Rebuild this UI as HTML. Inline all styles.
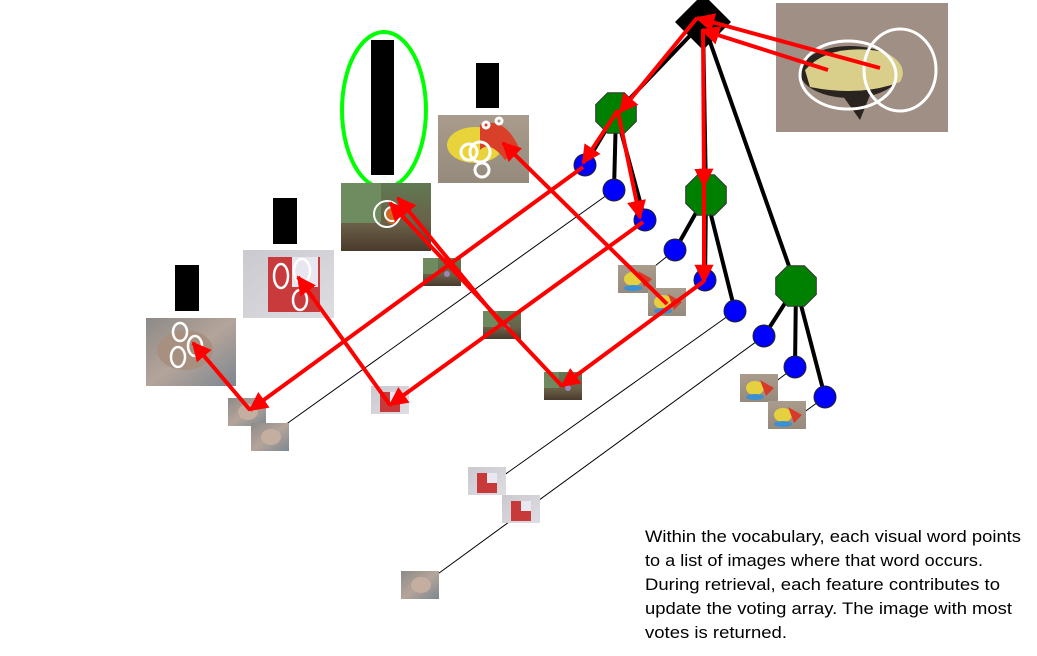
<!DOCTYPE html>
<html><head><meta charset="utf-8"><style>
html,body{margin:0;padding:0;background:#fff;}
svg{display:block;}
</style></head><body>
<svg width="1037" height="656" viewBox="0 0 1037 656" xmlns="http://www.w3.org/2000/svg">
<defs>
<marker id="ah" viewBox="0 0 10 10" refX="9" refY="5" markerWidth="4.8" markerHeight="4.8" orient="auto" markerUnits="strokeWidth">
<path d="M0,0 L10,5 L0,10 z" fill="#f00"/></marker>
<linearGradient id="face" x1="0" y1="0" x2="1" y2="1"><stop offset="0" stop-color="#8c8a88"/><stop offset="0.5" stop-color="#b4a49a"/><stop offset="1" stop-color="#7d8790"/></linearGradient>
<linearGradient id="box" x1="0" y1="0" x2="1" y2="1"><stop offset="0" stop-color="#c9c9cf"/><stop offset="1" stop-color="#dedde2"/></linearGradient>
<linearGradient id="flw" x1="0" y1="0" x2="0" y2="1"><stop offset="0" stop-color="#5f7a52"/><stop offset="0.6" stop-color="#6a6048"/><stop offset="1" stop-color="#4a3a2c"/></linearGradient>
<linearGradient id="brd" x1="0" y1="0" x2="0" y2="1"><stop offset="0" stop-color="#aa9c8c"/><stop offset="1" stop-color="#958a7c"/></linearGradient>
<g id="oct"><polygon points="-8.4,-20.3 8.4,-20.3 20.3,-8.4 20.3,8.4 8.4,20.3 -8.4,20.3 -20.3,8.4 -20.3,-8.4" fill="#008000" stroke="#333" stroke-width="1"/></g>
<g id="sface"><rect width="38" height="28" fill="url(#face)"/><ellipse cx="20" cy="14" rx="10" ry="8" fill="#c4aea0"/></g>
<g id="sbox"><rect width="38" height="28" fill="url(#box)"/><rect x="9" y="6" width="20" height="20" fill="#c8393a"/><rect x="19" y="6" width="10" height="10" fill="#e8e8f0"/></g>
<g id="sflw"><rect width="38" height="28" fill="url(#flw)"/><rect x="0" y="0" width="15" height="16" fill="#6f8a5e"/><circle cx="24" cy="16" r="3" fill="#9a86b0"/></g>
<g id="sbrd"><rect width="38" height="28" fill="url(#brd)"/><ellipse cx="15" cy="14" rx="9" ry="7" fill="#e5d040"/><path d="M20,6 L34,14 L26,22 z" fill="#d83a2a"/><ellipse cx="15" cy="23" rx="9" ry="3" fill="#3a90d0"/></g>
</defs>

<!-- butterfly -->
<rect x="776" y="3" width="172" height="129" fill="#9f8f84"/>
<ellipse cx="850" cy="72" rx="50" ry="26" fill="#2a2420"/>
<path d="M805,70 Q830,42 885,52 Q910,65 900,82 Q860,97 810,87 z" fill="#d9cf8a"/>
<path d="M840,92 L860,120 L870,95 z" fill="#2a2420"/>
<ellipse cx="848" cy="75" rx="48" ry="34" fill="none" stroke="#fff" stroke-width="3"/>
<ellipse cx="900" cy="70" rx="36" ry="41" fill="none" stroke="#fff" stroke-width="3"/>

<!-- thick black edges -->
<g stroke="#000" stroke-width="4" stroke-linecap="round">
<line x1="703" y1="22" x2="616" y2="113"/><line x1="703" y1="22" x2="706" y2="195"/><line x1="703" y1="22" x2="796" y2="286"/>
<line x1="616" y1="113" x2="585" y2="165"/><line x1="616" y1="113" x2="614" y2="190"/><line x1="616" y1="113" x2="645" y2="220"/>
<line x1="706" y1="195" x2="675" y2="250"/><line x1="706" y1="195" x2="705" y2="280"/><line x1="706" y1="195" x2="735" y2="311"/>
<line x1="796" y1="286" x2="764" y2="336"/><line x1="796" y1="286" x2="795" y2="367"/><line x1="796" y1="286" x2="825" y2="397"/>
</g>
<g stroke="#000" stroke-width="1">
<line x1="614" y1="190" x2="285" y2="425"/>
<line x1="675" y1="250" x2="650" y2="270"/>
<line x1="735" y1="311" x2="500" y2="478"/>
<line x1="764" y1="336" x2="435" y2="576"/>
<line x1="795" y1="367" x2="775" y2="382"/>
<line x1="825" y1="397" x2="803" y2="413"/>
</g>
<polygon points="703,-6 731,22 703,50 675,22" fill="#000"/>
<use href="#oct" x="616" y="113"/><use href="#oct" x="706" y="195"/><use href="#oct" x="796" y="286"/>
<g fill="#00f" stroke="#222" stroke-width="1">
<circle cx="585" cy="165" r="11"/><circle cx="614" cy="190" r="11"/><circle cx="645" cy="220" r="11"/>
<circle cx="675" cy="250" r="11"/><circle cx="705" cy="280" r="11"/><circle cx="735" cy="311" r="11"/>
<circle cx="764" cy="336" r="11"/><circle cx="795" cy="367" r="11"/><circle cx="825" cy="397" r="11"/>
</g>

<rect x="175" y="265" width="24" height="46" fill="#000"/>
<rect x="273" y="198" width="24" height="46" fill="#000"/>
<rect x="371" y="40" width="23" height="135" fill="#000"/>
<rect x="476" y="63" width="23" height="45" fill="#000"/>
<ellipse cx="384" cy="110" rx="42" ry="78" fill="none" stroke="#0f0" stroke-width="4"/>

<rect x="146" y="318" width="90" height="68" fill="url(#face)"/>
<ellipse cx="185" cy="350" rx="28" ry="20" fill="#a89080"/>
<g fill="none" stroke="#fff" stroke-width="2.5"><ellipse cx="180" cy="332" rx="7" ry="9"/><ellipse cx="195" cy="346" rx="7" ry="10"/><ellipse cx="178" cy="357" rx="7" ry="10"/></g>
<rect x="243" y="250" width="91" height="68" fill="url(#box)"/>
<rect x="268" y="257" width="52" height="55" fill="#c83a3c"/><rect x="292" y="257" width="26" height="30" fill="#e8e6ee"/>
<g fill="none" stroke="#fff" stroke-width="2.5"><ellipse cx="281" cy="276" rx="7" ry="12"/><ellipse cx="302" cy="271" rx="8" ry="12"/><ellipse cx="300" cy="300" rx="7" ry="10"/></g>
<rect x="341" y="183" width="90" height="68" fill="url(#flw)"/>
<rect x="341" y="183" width="40" height="40" fill="#6e8c60"/>
<circle cx="393" cy="216" r="8" fill="#d06a20"/>
<g fill="none" stroke="#fff" stroke-width="2"><circle cx="387" cy="214" r="13"/><circle cx="392" cy="214" r="7"/></g>
<rect x="438" y="115" width="91" height="68" fill="url(#brd)"/>
<ellipse cx="475" cy="145" rx="28" ry="18" fill="#e8d43a"/>
<path d="M480,125 Q505,115 520,150 L505,160 Q490,140 480,150 z" fill="#d8402a"/>
<g fill="none" stroke-width="3"><circle cx="469" cy="152" r="8" stroke="#fff"/><circle cx="480" cy="152" r="10" stroke="#fff"/><circle cx="482" cy="170" r="7" stroke="#fff"/><circle cx="486" cy="125" r="3" stroke="#fff"/><circle cx="499" cy="121" r="3" stroke="#fff"/></g>

<use href="#sface" x="228" y="398"/><use href="#sface" x="251" y="423"/><use href="#sface" x="401" y="571"/>
<use href="#sbox" x="371" y="386"/><use href="#sbox" x="468" y="467"/><use href="#sbox" x="502" y="495"/>
<use href="#sflw" x="423" y="258"/><use href="#sflw" x="483" y="311"/><use href="#sflw" x="544" y="372"/>
<use href="#sbrd" x="618" y="265"/><use href="#sbrd" x="648" y="288"/><use href="#sbrd" x="740" y="374"/><use href="#sbrd" x="768" y="401"/>

<g stroke="#f00" stroke-width="4" fill="none" marker-end="url(#ah)">
<line x1="880" y1="68" x2="697" y2="18"/>
<line x1="828" y1="70" x2="702" y2="30"/>
<line x1="697" y1="18" x2="620" y2="112"/>
<line x1="618" y1="110" x2="583" y2="163"/>
<line x1="618" y1="112" x2="640" y2="218"/>
<line x1="703" y1="30" x2="704" y2="186"/>
<line x1="704" y1="186" x2="704" y2="282"/>
<line x1="583" y1="167" x2="250" y2="410"/>
<line x1="250" y1="410" x2="193" y2="343"/>
<line x1="643" y1="222" x2="390" y2="405"/>
<line x1="390" y1="405" x2="298" y2="277"/>
<line x1="703" y1="282" x2="562" y2="386"/>
<line x1="562" y1="386" x2="390" y2="203"/>
<line x1="500" y1="322" x2="398" y2="198"/>
<line x1="667" y1="304" x2="503" y2="143"/>
</g>

<g font-family="'Liberation Sans', sans-serif" font-size="16.5" fill="#000">
<text x="645" y="542" textLength="376" lengthAdjust="spacingAndGlyphs">Within the vocabulary, each visual word points</text>
<text x="645" y="566" textLength="338" lengthAdjust="spacingAndGlyphs">to a list of images where that word occurs.</text>
<text x="645" y="590" textLength="355" lengthAdjust="spacingAndGlyphs">During retrieval, each feature contributes to</text>
<text x="645" y="614" textLength="367" lengthAdjust="spacingAndGlyphs">update the voting array. The image with most</text>
<text x="645" y="638" textLength="142" lengthAdjust="spacingAndGlyphs">votes is returned.</text>
</g>
</svg>
</body></html>
